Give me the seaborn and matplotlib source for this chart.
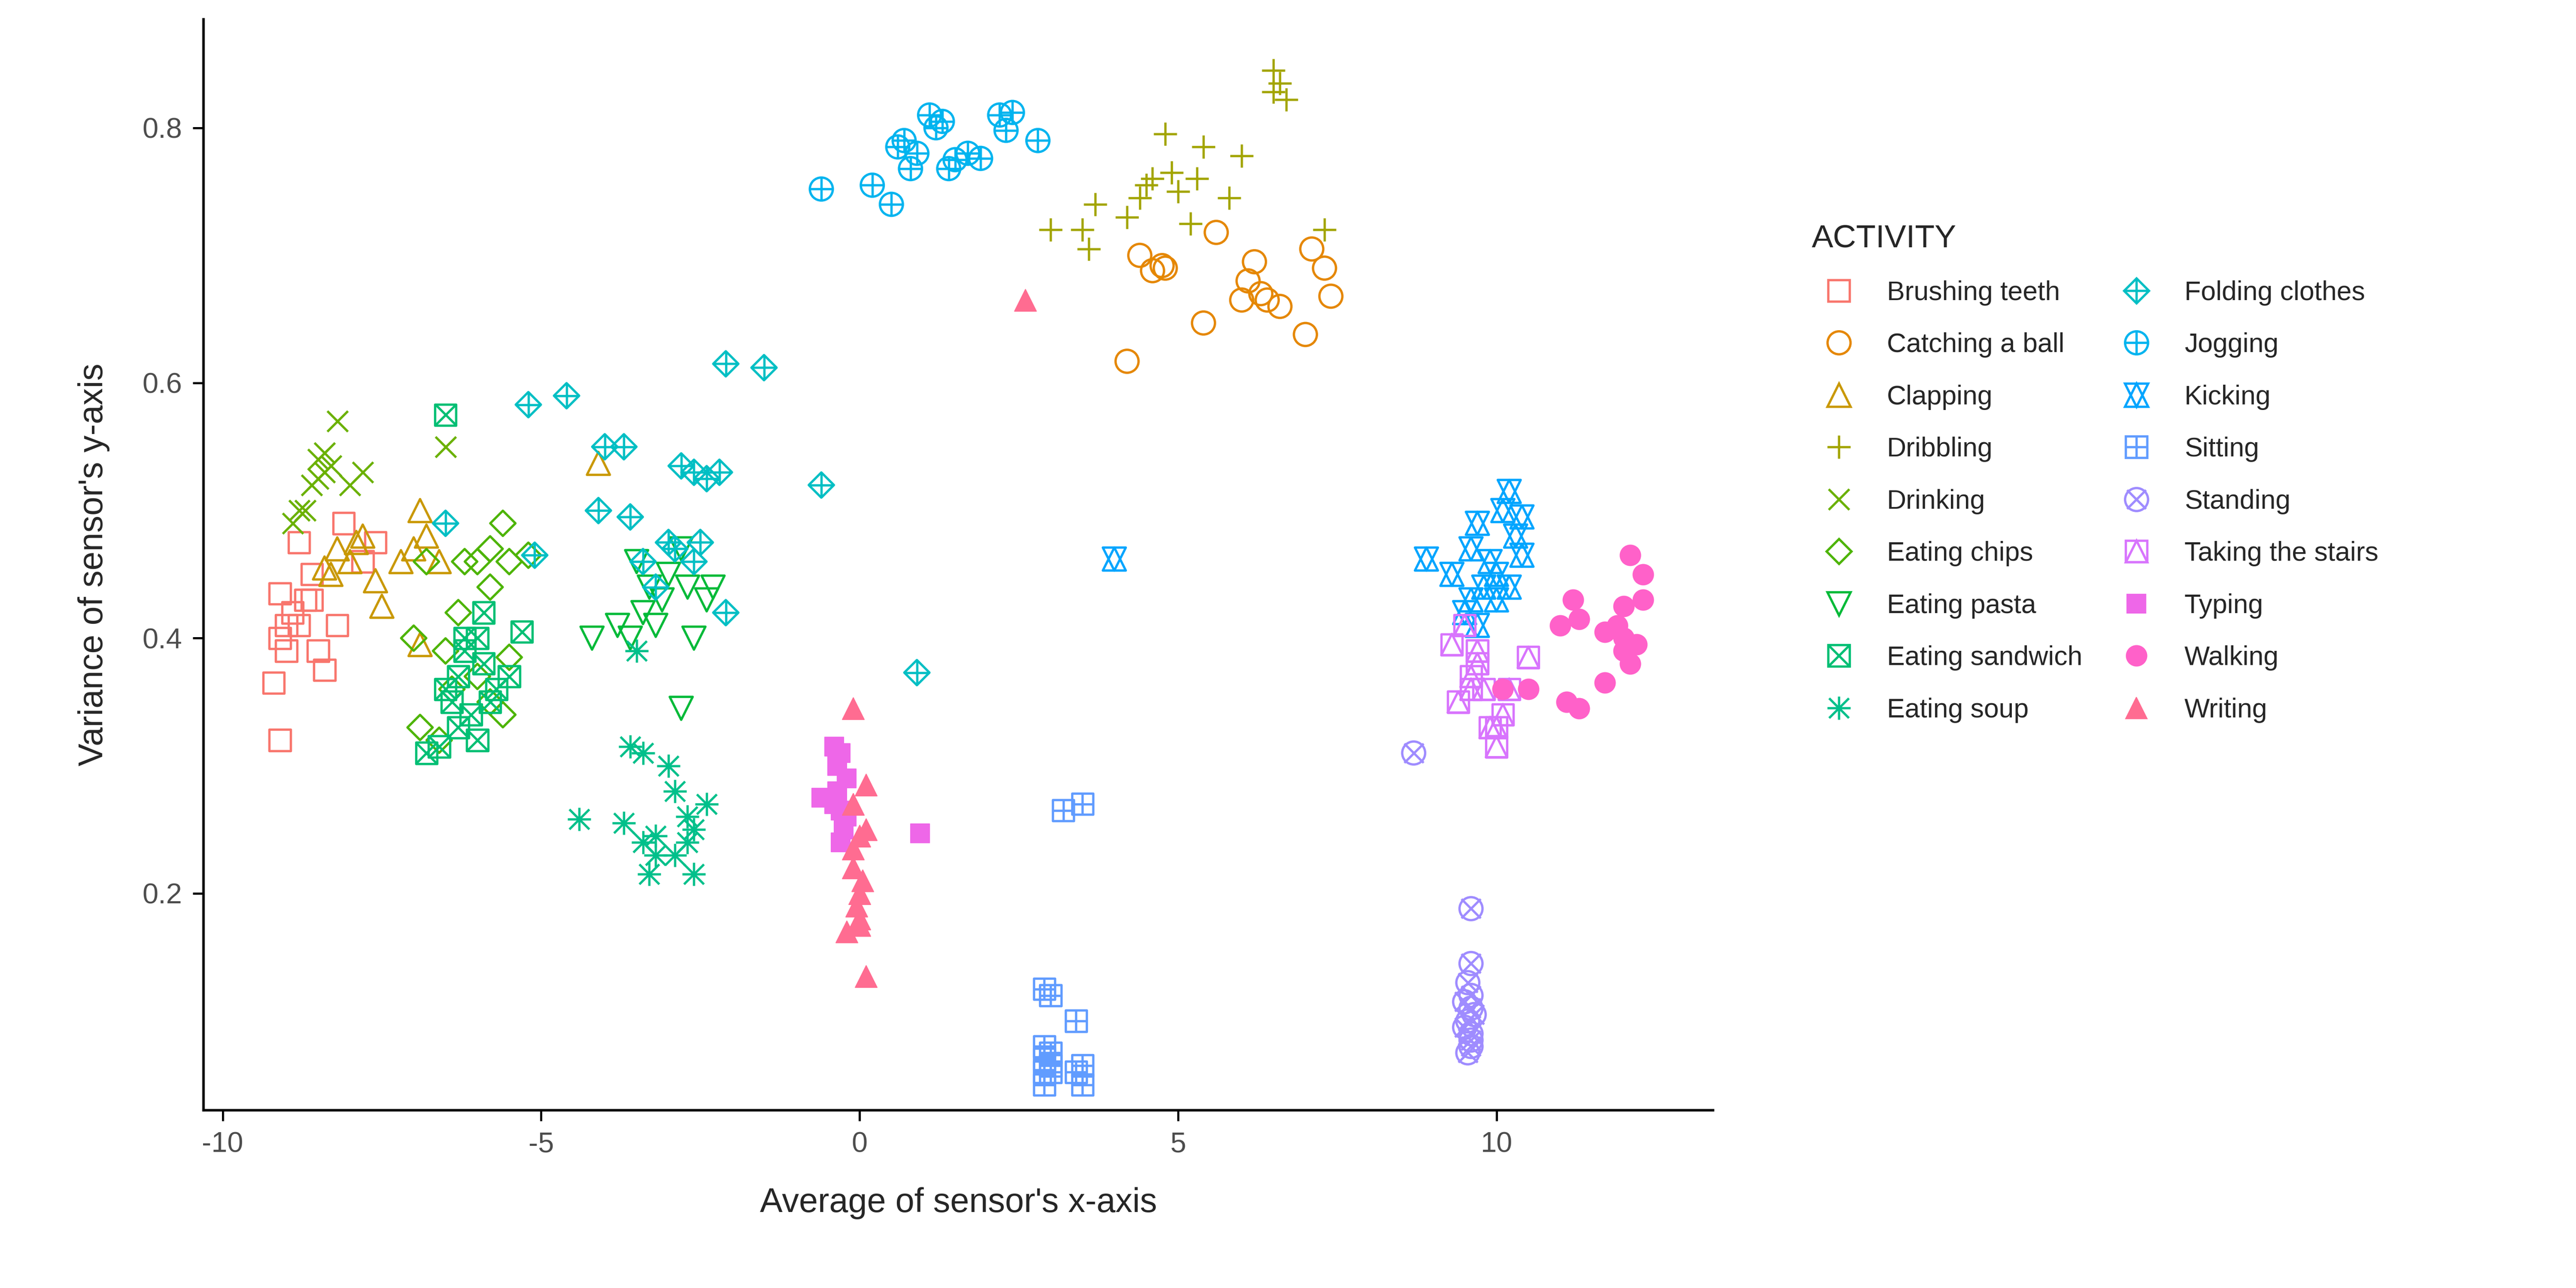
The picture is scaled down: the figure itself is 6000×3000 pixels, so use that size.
import numpy as np
import pandas as pd
import seaborn as sns
import matplotlib
matplotlib.use("Agg")
import matplotlib.pyplot as plt
from matplotlib.lines import Line2D
from matplotlib.legend_handler import HandlerTuple

activities = ["Brushing teeth","Catching a ball","Clapping","Dribbling","Drinking","Eating chips",
              "Eating pasta","Eating sandwich","Eating soup","Folding clothes","Jogging","Kicking",
              "Sitting","Standing","Taking the stairs","Typing","Walking","Writing"]

brushing = [(-9.1,0.32),(-9.2,0.365),(-9.1,0.4),(-9.0,0.39),(-9.0,0.41),(-8.9,0.42),(-8.8,0.41),(-8.7,0.43),(-8.6,0.45),(-8.5,0.39),(-8.4,0.375),(-8.2,0.41),(-9.1,0.435),(-8.8,0.475),(-8.1,0.49),(-7.6,0.475),(-7.8,0.46),(-8.6,0.43)]
catching = [(4.2,0.617),(4.4,0.70),(4.6,0.688),(4.8,0.69),(5.6,0.718),(5.4,0.647),(6.0,0.665),(6.1,0.68),(6.2,0.695),(6.3,0.67),(6.4,0.665),(6.6,0.66),(7.0,0.638),(7.1,0.705),(7.3,0.69),(7.4,0.668),(4.75,0.692)]
clapping = [(-4.1,0.537),(-8.4,0.455),(-8.2,0.47),(-8.0,0.46),(-7.8,0.48),(-7.6,0.445),(-7.5,0.425),(-7.2,0.46),(-7.0,0.47),(-6.9,0.5),(-6.8,0.48),(-6.6,0.46),(-6.9,0.395),(-8.3,0.45),(-7.9,0.475)]
dribbling = [(3.0,0.72),(3.5,0.72),(3.6,0.705),(3.7,0.74),(4.2,0.73),(4.4,0.745),(4.5,0.755),(4.6,0.76),(4.8,0.795),(4.9,0.765),(5.0,0.75),(5.2,0.725),(5.4,0.785),(5.8,0.745),(6.0,0.778),(6.5,0.845),(6.6,0.835),(6.7,0.822),(7.3,0.72),(6.5,0.828),(5.3,0.76)]
drinking = [(-8.9,0.49),(-8.7,0.50),(-8.6,0.52),(-8.5,0.54),(-8.4,0.53),(-8.3,0.535),(-8.2,0.57),(-8.5,0.525),(-8.0,0.52),(-7.8,0.53),(-6.5,0.55),(-8.8,0.5),(-8.4,0.545)]
chips = [(-6.9,0.33),(-6.6,0.32),(-7.0,0.40),(-6.5,0.39),(-6.3,0.42),(-6.0,0.46),(-5.8,0.47),(-5.6,0.49),(-5.5,0.46),(-5.2,0.465),(-6.2,0.46),(-5.5,0.385),(-5.6,0.34),(-5.8,0.35),(-6.0,0.37),(-6.4,0.36),(-6.8,0.46),(-5.8,0.44)]
pasta = [(-4.2,0.40),(-3.8,0.41),(-3.6,0.40),(-3.4,0.42),(-3.3,0.44),(-3.1,0.43),(-3.0,0.45),(-2.8,0.47),(-2.7,0.44),(-2.6,0.40),(-2.4,0.43),(-2.3,0.44),(-2.8,0.345),(-3.2,0.41),(-3.5,0.46)]
sandwich = [(-6.8,0.31),(-6.6,0.315),(-6.5,0.36),(-6.3,0.37),(-6.2,0.39),(-6.0,0.40),(-5.9,0.38),(-5.7,0.36),(-5.5,0.37),(-5.3,0.405),(-5.9,0.42),(-6.1,0.34),(-6.0,0.32),(-6.3,0.33),(-6.5,0.575),(-6.4,0.35),(-5.8,0.35),(-6.2,0.4)]
soup = [(-4.4,0.258),(-3.6,0.315),(-3.4,0.31),(-3.0,0.30),(-3.7,0.255),(-3.4,0.24),(-3.2,0.23),(-3.3,0.215),(-2.9,0.28),(-2.7,0.26),(-2.6,0.25),(-2.4,0.27),(-2.6,0.215),(-2.9,0.23),(-3.5,0.39),(-3.2,0.245),(-2.7,0.24)]
folding = [(-6.5,0.49),(-5.2,0.583),(-4.6,0.59),(-4.0,0.55),(-3.7,0.55),(-4.1,0.50),(-3.6,0.495),(-3.4,0.46),(-3.2,0.44),(-2.9,0.47),(-2.8,0.535),(-2.6,0.53),(-2.4,0.525),(-2.2,0.53),(-2.5,0.475),(-2.6,0.46),(-2.1,0.615),(-1.5,0.612),(-2.1,0.42),(-0.6,0.52),(0.9,0.373),(-5.1,0.465),(-3.0,0.475)]
jogging = [(-0.6,0.752),(0.2,0.755),(0.5,0.74),(0.6,0.785),(0.7,0.79),(0.8,0.768),(0.9,0.78),(1.1,0.81),(1.2,0.80),(1.3,0.805),(1.4,0.768),(1.5,0.775),(1.7,0.78),(1.9,0.776),(2.2,0.81),(2.4,0.812),(2.3,0.798),(2.8,0.79)]
kicking = [(4.0,0.462),(8.9,0.462),(9.3,0.45),(9.5,0.42),(9.6,0.47),(9.7,0.49),(9.8,0.44),(9.9,0.46),(10.0,0.43),(10.1,0.50),(10.2,0.515),(10.3,0.48),(10.4,0.495),(10.4,0.465),(10.0,0.45),(9.7,0.41),(9.6,0.43),(10.2,0.44)]
sitting = [(2.9,0.125),(3.0,0.12),(2.9,0.08),(2.9,0.07),(3.0,0.06),(2.9,0.05),(3.0,0.065),(3.4,0.1),(3.5,0.065),(3.5,0.05),(3.4,0.06),(3.2,0.265),(3.5,0.27),(2.9,0.06),(3.0,0.075)]
standing = [(8.7,0.31),(9.6,0.188),(9.6,0.145),(9.55,0.13),(9.6,0.12),(9.5,0.115),(9.6,0.11),(9.55,0.1),(9.6,0.09),(9.6,0.085),(9.55,0.075),(9.6,0.08),(9.5,0.095),(9.65,0.105)]
stairs = [(9.3,0.395),(9.5,0.41),(9.4,0.35),(9.6,0.37),(9.7,0.38),(9.8,0.36),(9.9,0.33),(10.0,0.315),(10.1,0.34),(10.2,0.36),(10.5,0.385),(9.7,0.39),(9.6,0.36),(10.0,0.33)]
typing = [(-0.6,0.275),(-0.4,0.315),(-0.3,0.31),(-0.35,0.28),(-0.3,0.265),(-0.25,0.25),(-0.3,0.24),(-0.4,0.27),(-0.2,0.29),(0.95,0.247),(-0.35,0.3),(-0.2,0.26)]
walking = [(10.1,0.36),(10.5,0.36),(11.0,0.41),(11.1,0.35),(11.2,0.43),(11.3,0.415),(11.3,0.345),(11.7,0.405),(11.7,0.365),(11.9,0.41),(12.0,0.425),(12.0,0.39),(12.1,0.38),(12.1,0.465),(12.2,0.395),(12.3,0.45),(12.3,0.43),(12.0,0.4)]
writing = [(2.6,0.665),(-0.1,0.345),(0.1,0.285),(-0.1,0.27),(0.0,0.245),(0.1,0.25),(-0.1,0.22),(0.0,0.2),(-0.05,0.19),(0.0,0.18),(-0.2,0.17),(0.0,0.175),(0.1,0.135),(-0.1,0.235),(0.05,0.21)]

data_lists = [brushing,catching,clapping,dribbling,drinking,chips,pasta,sandwich,soup,folding,
              jogging,kicking,sitting,standing,stairs,typing,walking,writing]

colors = ["#F8766D","#E58700","#C99800","#A3A500","#6BB100","#4DB400","#00BA38","#00BF74","#00C08B",
          "#00BFC4","#00B4EF","#00A5FF","#619CFF","#9F8CFF","#D874FD","#EE67E8","#FF61C9","#FF6C91"]

S = 165
styles = [
    [("s",0.85,False)], [("o",1,False)], [("^",1,False)], [("+",1,False)], [("x",0.8,False)],
    [("D",0.6,False)], [("v",1,False)], [("s",0.85,False),("x",0.85,False)],
    [("+",1,False),("x",0.75,False)], [("D",0.6,False),("+",1.2,False)],
    [("o",1,False),("+",1,False)], [("^",1,False),("v",1,False)],
    [("s",0.85,False),("+",0.85,False)], [("o",1,False),("x",0.7,False)],
    [("s",0.85,False),("^",0.85,False)], [("s",0.7,True)], [("o",0.8,True)], [("^",0.9,True)],
]
LW = 1.3

sns.set_theme(style="ticks")
plt.rcParams['font.family'] = ['Liberation Sans', 'DejaVu Sans']
fig = plt.figure(figsize=(20, 10), dpi=300)
ax = fig.add_axes([0.079, 0.138, 0.586, 0.847])

handles = []
for name, pts, col, sty in zip(activities, data_lists, colors, styles):
    df = pd.DataFrame(pts, columns=["x", "y"])
    parts = []
    for m, f, filled in sty:
        if filled:
            sns.scatterplot(data=df, x="x", y="y", ax=ax, marker=m, s=S*f,
                            facecolor=col, edgecolor=col, linewidth=0.5)
            parts.append(Line2D([], [], marker=m, ls="", markersize=np.sqrt(S*f),
                                mfc=col, mec=col, mew=0.5))
        elif m in ("+", "x"):
            sns.scatterplot(data=df, x="x", y="y", ax=ax, marker=m, s=S*f,
                            color=col, linewidth=LW)
            parts.append(Line2D([], [], marker=m, ls="", markersize=np.sqrt(S*f),
                                color=col, mew=LW))
        else:
            sns.scatterplot(data=df, x="x", y="y", ax=ax, marker=m, s=S*f,
                            facecolor="none", edgecolor=col, linewidth=LW)
            parts.append(Line2D([], [], marker=m, ls="", markersize=np.sqrt(S*f),
                                mfc="none", mec=col, mew=LW))
    handles.append(tuple(parts))

ax.set_xlim(-10.3, 13.4)
ax.set_ylim(0.03, 0.885)
ax.set_xticks([-10, -5, 0, 5, 10])
ax.set_xticklabels(["-10", "-5", "0", "5", "10"])
ax.set_yticks([0.2, 0.4, 0.6, 0.8])
ax.tick_params(labelsize=16, colors="black", length=6, width=1.2, pad=6)
for lbl in ax.get_xticklabels() + ax.get_yticklabels():
    lbl.set_color("#4d4d4d")
for sp in ["top", "right"]:
    ax.spines[sp].set_visible(False)
for sp in ["left", "bottom"]:
    ax.spines[sp].set_linewidth(1.4)
    ax.spines[sp].set_color("black")
ax.set_xlabel("Average of sensor's x-axis", fontsize=19, labelpad=16)
ax.set_ylabel("Variance of sensor's y-axis", fontsize=19, labelpad=18)

leg = fig.legend(handles, activities, loc="upper left", bbox_to_anchor=(0.694, 0.845),
                 ncol=2, frameon=False, title="ACTIVITY", fontsize=15, title_fontsize=18,
                 handler_map={tuple: HandlerTuple(ndivide=1)}, labelspacing=1.0,
                 columnspacing=1.0, handletextpad=0.8)
leg._legend_box.align = "left"

fig.savefig("out.png", dpi=300, facecolor="white")
